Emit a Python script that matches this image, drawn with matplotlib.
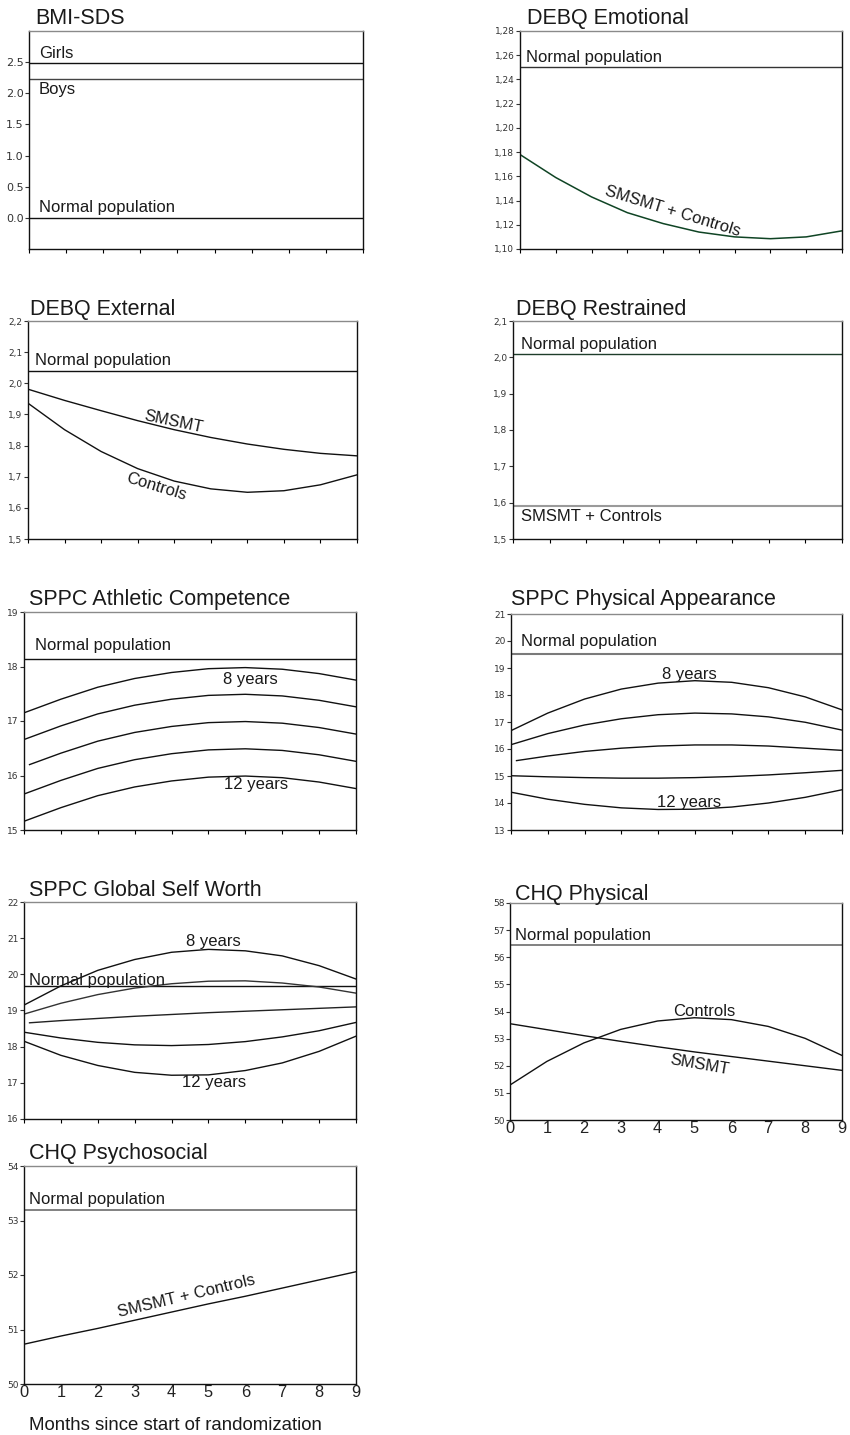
import matplotlib
matplotlib.use("Agg")
import matplotlib.pyplot as plt
from matplotlib.ticker import FixedLocator, FixedFormatter, NullFormatter

plt.rcParams['font.family'] = ['Liberation Sans', 'DejaVu Sans']

# ---------------- data ----------------
months = [0, 1, 2, 3, 4, 5, 6, 7, 8, 9]
months_mid = [0.15, 1, 2, 3, 4, 5, 6, 7, 8, 9]

# BMI-SDS
bmi_girls = 2.48
bmi_boys = 2.23
bmi_normal = 0.0
bmi_ticks = [0.0, 0.5, 1.0, 1.5, 2.0, 2.5]
bmi_ticklabels = ["0.0", "0.5", "1.0", "1.5", "2.0", "2.5"]

# DEBQ Emotional
emo_normal = 1.25
emo_all = [1.178, 1.159, 1.143, 1.130, 1.121, 1.114, 1.110, 1.1085, 1.110, 1.115]
emo_ticks = [1.10, 1.12, 1.14, 1.16, 1.18, 1.20, 1.22, 1.24, 1.26, 1.28]
emo_ticklabels = ["1,10", "1,12", "1,14", "1,16", "1,18", "1,20", "1,22", "1,24", "1,26", "1,28"]

# DEBQ External
ext_normal = 2.04
ext_smsmt = [1.981, 1.945, 1.912, 1.880, 1.851, 1.826, 1.805, 1.788, 1.775, 1.767]
ext_controls = [1.936, 1.851, 1.781, 1.726, 1.686, 1.661, 1.650, 1.655, 1.674, 1.706]
ext_ticks = [1.5, 1.6, 1.7, 1.8, 1.9, 2.0, 2.1, 2.2]
ext_ticklabels = ["1,5", "1,6", "1,7", "1,8", "1,9", "2,0", "2,1", "2,2"]

# DEBQ Restrained
res_normal = 2.01
res_all = 1.59
res_ticks = [1.5, 1.6, 1.7, 1.8, 1.9, 2.0, 2.1]
res_ticklabels = ["1,5", "1,6", "1,7", "1,8", "1,9", "2,0", "2,1"]

# SPPC Athletic Competence (8 .. 12 years)
ath_normal = 18.13
ath_8 = [17.15, 17.40, 17.62, 17.78, 17.89, 17.96, 17.98, 17.95, 17.87, 17.75]
ath_9 = [16.66, 16.91, 17.13, 17.29, 17.40, 17.47, 17.49, 17.46, 17.38, 17.26]
ath_10 = [16.20, 16.41, 16.63, 16.79, 16.90, 16.97, 16.99, 16.96, 16.88, 16.76]
ath_11 = [15.66, 15.91, 16.13, 16.29, 16.40, 16.47, 16.49, 16.46, 16.38, 16.26]
ath_12 = [15.16, 15.41, 15.63, 15.79, 15.90, 15.97, 15.99, 15.96, 15.88, 15.76]
ath_ticks = [15, 16, 17, 18, 19]
ath_ticklabels = ["15", "16", "17", "18", "19"]

# SPPC Physical Appearance
app_normal = 19.52
app_8 = [16.68, 17.33, 17.85, 18.22, 18.44, 18.53, 18.47, 18.27, 17.93, 17.45]
app_9 = [16.16, 16.57, 16.89, 17.12, 17.27, 17.33, 17.30, 17.19, 16.99, 16.70]
app_10 = [15.57, 15.74, 15.91, 16.03, 16.11, 16.15, 16.15, 16.11, 16.03, 15.95]
app_11 = [15.01, 14.97, 14.94, 14.92, 14.92, 14.94, 14.98, 15.04, 15.12, 15.21]
app_12 = [14.40, 14.14, 13.95, 13.82, 13.76, 13.77, 13.85, 14.00, 14.21, 14.49]
app_ticks = [13, 14, 15, 16, 17, 18, 19, 20, 21]
app_ticklabels = ["13", "14", "15", "16", "17", "18", "19", "20", "21"]

# SPPC Global Self Worth
gsw_normal = 19.69
gsw_8 = [19.15, 19.68, 20.11, 20.41, 20.61, 20.69, 20.65, 20.51, 20.24, 19.87]
gsw_9 = [18.90, 19.20, 19.44, 19.62, 19.74, 19.81, 19.82, 19.76, 19.65, 19.48]
gsw_10 = [18.66, 18.72, 18.78, 18.84, 18.89, 18.94, 18.98, 19.02, 19.06, 19.10]
gsw_11 = [18.40, 18.24, 18.12, 18.05, 18.03, 18.06, 18.14, 18.27, 18.44, 18.67]
gsw_12 = [18.15, 17.76, 17.48, 17.29, 17.21, 17.22, 17.34, 17.55, 17.87, 18.29]
gsw_ticks = [16, 17, 18, 19, 20, 21, 22]
gsw_ticklabels = ["16", "17", "18", "19", "20", "21", "22"]

# CHQ Physical
chp_normal = 56.44
chp_smsmt = [53.55, 53.33, 53.11, 52.90, 52.70, 52.51, 52.34, 52.17, 52.00, 51.83]
chp_controls = [51.29, 52.16, 52.84, 53.34, 53.65, 53.77, 53.70, 53.45, 53.01, 52.38]
chp_ticks = [50, 51, 52, 53, 54, 55, 56, 57, 58]
chp_ticklabels = ["50", "51", "52", "53", "54", "55", "56", "57", "58"]

# CHQ Psychosocial
chs_normal = 53.20
chs_all = [50.73, 50.88, 51.02, 51.17, 51.32, 51.47, 51.61, 51.76, 51.91, 52.06]
chs_ticks = [50, 51, 52, 53, 54]
chs_ticklabels = ["50", "51", "52", "53", "54"]

xtick_labels = ["0", "1", "2", "3", "4", "5", "6", "7", "8", "9"]

# ---------------- figure ----------------
W, H = 850, 1435
fig = plt.figure(figsize=(W / 100, H / 100), dpi=100)

LW = 1.0
LBL = 12
TITLE = 15.5


def make_ax(x0, x1, y0, y1, title, tx, ty, ylim, ticks, ticklabels,
            tfs=6.5, xlabels=False):
    ax = fig.add_axes([x0 / W, 1 - y1 / H, (x1 - x0) / W, (y1 - y0) / H])
    ax.set_xlim(0, 9)
    ax.set_ylim(*ylim)
    ax.yaxis.set_major_locator(FixedLocator(ticks))
    ax.yaxis.set_major_formatter(FixedFormatter(ticklabels))
    ax.xaxis.set_major_locator(FixedLocator(months))
    ax.tick_params(axis='y', direction='out', length=3, width=0.8, pad=1,
                   labelsize=tfs, labelcolor='#333333', colors='#333333')
    for lab in ax.get_yticklabels():
        lab.set_family('DejaVu Sans')
    if xlabels:
        ax.xaxis.set_major_formatter(FixedFormatter(xtick_labels))
        ax.tick_params(axis='x', direction='out', length=1, width=0.8, pad=0,
                       labelsize=11.8, labelcolor='#222222')
    else:
        ax.xaxis.set_major_formatter(NullFormatter())
        ax.tick_params(axis='x', direction='out', length=3, width=0.8)
    for s in ['left', 'bottom', 'right']:
        ax.spines[s].set_color('#111111')
        ax.spines[s].set_linewidth(1.0)
    ax.spines['top'].set_color('#8a8a8a')
    ax.spines['top'].set_linewidth(1.0)
    fig.text(tx / W, 1 - ty / H, title, fontsize=TITLE, color='#1a1a1a',
             ha='left', va='baseline')
    return ax


def hline(ax, y, color='#111111', lw=LW):
    ax.plot([0, 9], [y, y], color=color, lw=lw, solid_capstyle='butt')


def lab(ax, x, y, s, ha='left', va='bottom', rot=0):
    ax.text(x, y, s, fontsize=LBL, color='#1a1a1a', ha=ha, va=va,
            rotation=rot, rotation_mode='anchor')


# BMI-SDS
ax = make_ax(29, 363, 31, 249, "BMI-SDS", 35, 24, (-0.5, 3.0),
             bmi_ticks, bmi_ticklabels, tfs=8)
hline(ax, bmi_girls)
hline(ax, bmi_boys, color='#444444')
hline(ax, bmi_normal)
lab(ax, 0.27, bmi_girls + 0.04, "Girls")
lab(ax, 0.27, bmi_boys - 0.05, "Boys", va='top')
lab(ax, 0.27, bmi_normal + 0.04, "Normal population")

# DEBQ Emotional
ax = make_ax(520, 842, 31, 249, "DEBQ Emotional", 527, 24, (1.10, 1.28),
             emo_ticks, emo_ticklabels)
hline(ax, emo_normal, color='#333333')
ax.plot(months, emo_all, color='#0f4424', lw=1.1)
lab(ax, 0.17, emo_normal + 0.002, "Normal population")
lab(ax, 4.27, 1.131, "SMSMT + Controls", ha='center', va='center', rot=-17)

# DEBQ External
ax = make_ax(28, 357, 321, 539, "DEBQ External", 30, 315, (1.5, 2.2),
             ext_ticks, ext_ticklabels)
hline(ax, ext_normal)
ax.plot(months, ext_smsmt, color='#111111', lw=LW)
ax.plot(months, ext_controls, color='#111111', lw=LW)
lab(ax, 0.19, ext_normal + 0.008, "Normal population")
lab(ax, 3.97, 1.877, "SMSMT", ha='center', va='center', rot=-12)
lab(ax, 3.52, 1.669, "Controls", ha='center', va='center', rot=-17)

# DEBQ Restrained
ax = make_ax(513, 842, 321, 539, "DEBQ Restrained", 516, 315, (1.5, 2.1),
             res_ticks, res_ticklabels)
hline(ax, res_normal, color='#1e3d2a')
hline(ax, res_all, color='#9a9a9a', lw=1.5)
lab(ax, 0.22, res_normal + 0.006, "Normal population")
lab(ax, 0.22, res_all - 0.007, "SMSMT + Controls", va='top')

# SPPC Athletic Competence
ax = make_ax(24, 356, 612, 830, "SPPC Athletic Competence", 29, 605, (15, 19),
             ath_ticks, ath_ticklabels)
hline(ax, ath_normal)
ax.plot(months, ath_8, color='#111111', lw=LW)
ax.plot(months, ath_9, color='#111111', lw=LW)
ax.plot(months_mid, ath_10, color='#111111', lw=LW)
ax.plot(months, ath_11, color='#111111', lw=LW)
ax.plot(months, ath_12, color='#111111', lw=LW)
lab(ax, 0.3, ath_normal + 0.11, "Normal population")
lab(ax, 6.15, 17.77, "8 years", ha='center', va='center')
lab(ax, 6.3, 15.84, "12 years", ha='center', va='center')

# SPPC Physical Appearance
ax = make_ax(511, 842, 614, 830, "SPPC Physical Appearance", 511, 605, (13, 21),
             app_ticks, app_ticklabels)
hline(ax, app_normal, color='#7a7a7a', lw=1.5)
ax.plot(months, app_8, color='#111111', lw=LW)
ax.plot(months, app_9, color='#111111', lw=LW)
ax.plot(months_mid, app_10, color='#111111', lw=LW)
ax.plot(months, app_11, color='#111111', lw=LW)
ax.plot(months, app_12, color='#111111', lw=LW)
lab(ax, 0.27, app_normal + 0.2, "Normal population")
lab(ax, 4.86, 18.75, "8 years", ha='center', va='center')
lab(ax, 4.84, 14.03, "12 years", ha='center', va='center')

# SPPC Global Self Worth
ax = make_ax(24, 356, 902, 1119, "SPPC Global Self Worth", 29, 896, (16, 22),
             gsw_ticks, gsw_ticklabels)
hline(ax, gsw_normal)
ax.plot(months, gsw_8, color='#111111', lw=LW)
ax.plot(months, gsw_9, color='#333333', lw=LW)
ax.plot(months_mid, gsw_10, color='#222222', lw=LW)
ax.plot(months, gsw_11, color='#111111', lw=LW)
ax.plot(months, gsw_12, color='#111111', lw=LW)
lab(ax, 0.14, gsw_normal + 0.02, "Normal population", va='baseline')
lab(ax, 5.14, 20.90, "8 years", ha='center', va='center')
lab(ax, 5.14, 17.01, "12 years", ha='center', va='center')

# CHQ Physical
ax = make_ax(510, 842, 903, 1120, "CHQ Physical", 515, 900, (50, 58),
             chp_ticks, chp_ticklabels, xlabels=True)
hline(ax, chp_normal, color='#777777', lw=1.3)
ax.plot(months, chp_smsmt, color='#111111', lw=LW)
ax.plot(months, chp_controls, color='#111111', lw=LW)
lab(ax, 0.14, chp_normal + 0.08, "Normal population")
lab(ax, 5.26, 54.01, "Controls", ha='center', va='center')
lab(ax, 5.15, 52.05, "SMSMT", ha='center', va='center', rot=-10)

# CHQ Psychosocial
ax = make_ax(24, 356, 1166, 1384, "CHQ Psychosocial", 29, 1159, (50, 54),
             chs_ticks, chs_ticklabels, xlabels=True)
hline(ax, chs_normal, color='#777777', lw=1.3)
ax.plot(months, chs_all, color='#111111', lw=LW)
lab(ax, 0.14, chs_normal + 0.04, "Normal population")
lab(ax, 4.4, 51.62, "SMSMT + Controls", ha='center', va='center', rot=13.5)

fig.text(29 / W, 1 - 1430 / H, "Months since start of randomization",
         fontsize=13.4, color='#1a1a1a', ha='left', va='baseline')

fig.savefig("out.png", dpi=100)
